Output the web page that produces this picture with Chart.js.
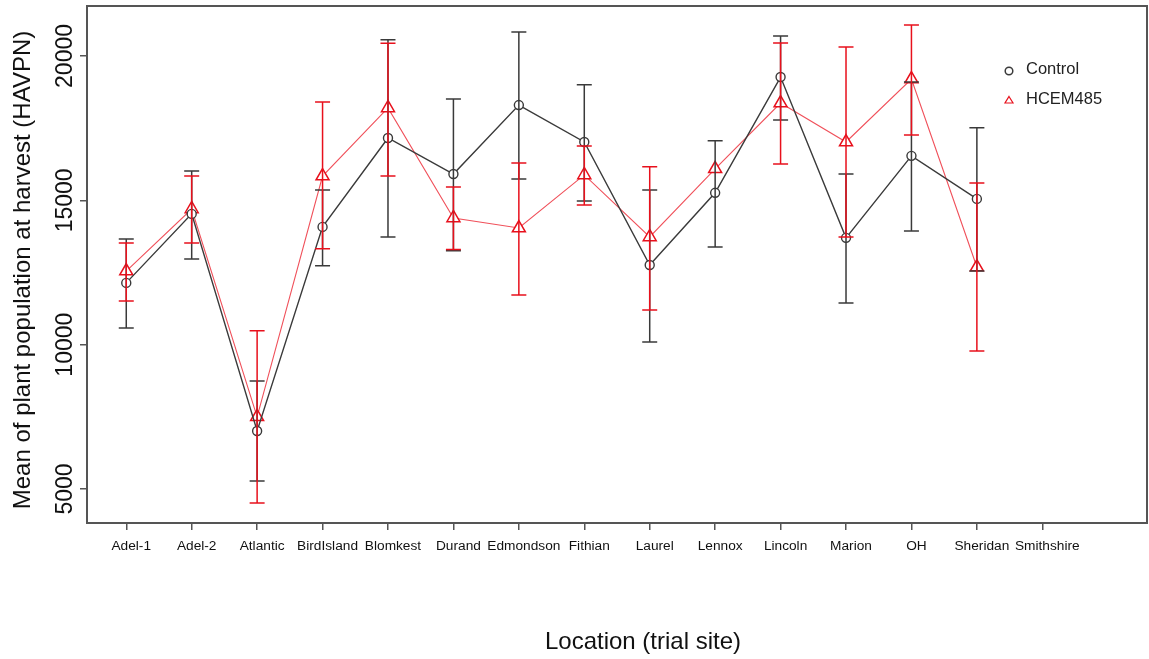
<!DOCTYPE html>
<html>
<head>
<meta charset="utf-8">
<script src="https://cdn.jsdelivr.net/npm/chart.js@4.4.1/dist/chart.umd.min.js"></script>
<style>
  html, body { margin: 0; padding: 0; background: #fff; }
  canvas { display: block; }
</style>
</head>
<body>
<canvas id="myChart" width="1149" height="659"></canvas>
<script>
// trial sites
const categories = ['Adel-1', 'Adel-2', 'Atlantic', 'BirdIsland', 'Blomkest', 'Durand', 'Edmondson', 'Fithian',
  'Laurel', 'Lennox', 'Lincoln', 'Marion', 'OH', 'Sheridan', 'Smithshire'];

// Control: mean and error bar ends
const controlMean  = [12140, 14530, 7010, 14080, 17160, 15910, 18300, 17020, 12760, 15260, 19270, 13700, 16540, 15050, null];
const controlUpper = [13660, 16020, 8740, 15360, 20560, 18510, 20830, 19000, 15360, 17060, 20690, 15910, 19100, 17510, null];
const controlLower = [10580, 12970, 5280, 12730, 13730, 13250, 15740, 14980, 10090, 13380, 17780, 11440, 13940, 12550, null];

// HCEM485: mean and error bar ends
const hcemMean  = [12550, 14700, 7500, 15840, 18200, 14390, 14040, 15880, 13730, 16090, 18370, 17020, 19200, 12690, null];
const hcemUpper = [13520, 15840, 10480, 18410, 20440, 15460, 16290, 16880, 16160, null, 20450, 20310, 21070, 15600, null];
const hcemLower = [11510, 13520, 4520, 13320, 15840, 13300, 11720, 14840, 11200, null, 16260, 13730, 17260, 9780, null];

const yTicks = [5000, 10000, 15000, 20000];

const FONT = '"Liberation Sans", Arial, sans-serif';
const BLACK = '#3a3a3a';
const RED = '#e8101c';

function toPoints(arr) {
  return arr.map((v, i) => ({ x: i, y: v }));
}

// error bars, box, rotated labels, legend
const decorations = {
  id: 'decorations',
  afterDatasetsDraw(chart) {
    const ctx = chart.ctx;
    const xs = chart.scales.x;
    const ys = chart.scales.y;
    // black first, red on top
    const bars = [
      { up: controlUpper, lo: controlLower, color: BLACK },
      { up: hcemUpper, lo: hcemLower, color: RED }
    ];
    ctx.save();
    ctx.lineWidth = 1.5;
    bars.forEach(b => {
      ctx.strokeStyle = b.color;
      for (let i = 0; i < categories.length; i++) {
        if (b.up[i] == null || b.lo[i] == null) continue;
        const x = xs.getPixelForValue(i);
        const y1 = ys.getPixelForValue(b.up[i]);
        const y2 = ys.getPixelForValue(b.lo[i]);
        ctx.beginPath();
        ctx.moveTo(x, y1); ctx.lineTo(x, y2);
        ctx.moveTo(x - 7.5, y1); ctx.lineTo(x + 7.5, y1);
        ctx.moveTo(x - 7.5, y2); ctx.lineTo(x + 7.5, y2);
        ctx.stroke();
      }
    });
    ctx.restore();
  },
  afterDraw(chart) {
    const ctx = chart.ctx;
    const a = chart.chartArea;
    const ys = chart.scales.y;
    ctx.save();
    // plot box
    ctx.strokeStyle = '#555';
    ctx.lineWidth = 2;
    ctx.strokeRect(a.left, a.top, a.right - a.left, a.bottom - a.top);

    // y tick labels, rotated like R
    ctx.fillStyle = '#111';
    ctx.font = '23px ' + FONT;
    ctx.textAlign = 'center';
    ctx.textBaseline = 'alphabetic';
    yTicks.forEach(v => {
      const y = ys.getPixelForValue(v);
      ctx.save();
      ctx.translate(72, y);
      ctx.rotate(-Math.PI / 2);
      ctx.fillText(String(v), 0, 0);
      ctx.restore();
    });

    // axis titles
    ctx.font = '24px ' + FONT;
    ctx.save();
    ctx.translate(30, 270);
    ctx.rotate(-Math.PI / 2);
    ctx.fillText('Mean of plant population at harvest (HAVPN)', 0, 0);
    ctx.restore();
    ctx.textBaseline = 'middle';
    ctx.fillText('Location (trial site)', 643, 642);

    // legend
    ctx.lineWidth = 1.5;
    ctx.strokeStyle = BLACK;
    ctx.beginPath();
    ctx.arc(1009, 71, 3.8, 0, Math.PI * 2);
    ctx.stroke();
    ctx.strokeStyle = RED;
    ctx.lineWidth = 1.2;
    ctx.beginPath();
    ctx.moveTo(1009, 96.5); ctx.lineTo(1013, 103); ctx.lineTo(1005, 103); ctx.closePath();
    ctx.stroke();
    ctx.font = '16.5px ' + FONT;
    ctx.textAlign = 'left';
    ctx.fillStyle = '#222';
    ctx.fillText('Control', 1026, 69);
    ctx.fillText('HCEM485', 1026, 99);
    ctx.restore();
  }
};

new Chart(document.getElementById('myChart').getContext('2d'), {
  type: 'line',
  data: {
    datasets: [{
      label: 'HCEM485',
      data: toPoints(hcemMean),
      borderColor: '#f0505a',
      borderWidth: 1.1,
      pointStyle: 'triangle',
      pointRadius: 7.5,
      pointBorderWidth: 1.5,
      pointBorderColor: RED,
      pointBackgroundColor: '#fff',
      spanGaps: false,
      order: 2
    }, {
      label: 'Control',
      data: toPoints(controlMean),
      borderColor: BLACK,
      borderWidth: 1.4,
      pointStyle: 'circle',
      pointRadius: 4.5,
      pointBorderWidth: 1.4,
      pointBorderColor: BLACK,
      pointBackgroundColor: '#fff',
      spanGaps: false,
      order: 1
    }]
  },
  options: {
    responsive: false,
    animation: false,
    events: [],
    layout: { autoPadding: false, padding: { left: 0, top: 6, right: 2, bottom: 0 } },
    plugins: {
      legend: { display: false },
      tooltip: { enabled: false }
    },
    scales: {
      x: {
        type: 'linear',
        min: -0.6,
        max: 15.6,
        afterBuildTicks: s => { s.ticks = categories.map((c, i) => ({ value: i })); },
        afterFit: s => { s.height = 136; s.paddingLeft = 0; s.paddingRight = 0; },
        ticks: {
          autoSkip: false,
          maxRotation: 0,
          minRotation: 0,
          padding: 8,
          labelOffset: 5,
          color: '#111',
          font: { family: FONT, size: 13.7 },
          callback: v => categories[v]
        },
        grid: { drawOnChartArea: false, drawTicks: true, tickLength: 7, color: '#555', lineWidth: 1.5 },
        border: { display: false }
      },
      y: {
        type: 'linear',
        min: 3823,
        max: 21731,
        afterBuildTicks: s => { s.ticks = yTicks.map(v => ({ value: v })); },
        afterFit: s => { s.width = 87; s.paddingTop = 0; s.paddingBottom = 0; },
        ticks: { display: false },
        grid: { drawOnChartArea: false, drawTicks: true, tickLength: 7, color: '#555', lineWidth: 1.5 },
        border: { display: false }
      }
    }
  },
  plugins: [decorations]
});
</script>
</body>
</html>
